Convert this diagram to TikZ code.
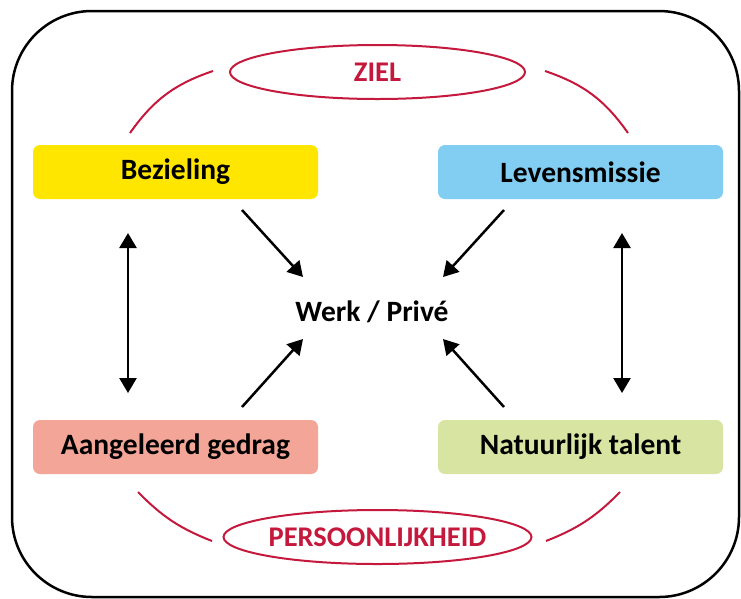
\documentclass[tikz,border=0pt]{standalone}
\usepackage{fontspec}
\setmainfont{Carlito}
\usetikzlibrary{arrows.meta,shapes.geometric}

\definecolor{zielrood}{RGB}{196,24,60}
\definecolor{geel}{RGB}{255,230,0}
\definecolor{blauw}{RGB}{130,205,242}
\definecolor{zalm}{RGB}{243,165,152}
\definecolor{groen}{RGB}{216,228,162}

\tikzset{
  vak/.style={rounded corners=7pt, minimum width=285pt, minimum height=54pt,
    inner sep=0pt, font=\fontsize{29.5}{31}\selectfont\bfseries},
  kern/.style={ellipse, draw=zielrood, line width=2pt, minimum width=295pt,
    minimum height=54pt, inner sep=0pt, text=zielrood,
    font=\fontsize{28.5}{30}\selectfont\bfseries},
  boog/.style={draw=zielrood, line width=2pt},
  pijl/.style={line width=2.5pt, -{Triangle[width=17pt,length=15pt]}},
  dubbel/.style={line width=2.5pt, {Triangle[width=17pt,length=15pt]}-{Triangle[width=17pt,length=15pt]}}
}

\begin{document}
\begin{tikzpicture}[x=1pt, y=-1pt]
    \useasboundingbox (0,0) rectangle (741,598);
    \draw[line width=2.5pt, rounded corners=80pt] (12,11) rectangle (739,597);

    % de vier vakken
    \node[vak, fill=geel]  (bezieling) at (175.5,172) {Bezieling};
    \node[vak, fill=blauw] (missie)    at (580.5,172) {Levensmissie};
    \node[vak, fill=zalm]  (gedrag)    at (175.5,447) {Aangeleerd gedrag};
    \node[vak, fill=groen] (talent)    at (580.5,447) {Natuurlijk talent};

    \node[font=\fontsize{29.5}{31}\selectfont\bfseries] (werk) at (372,312) {Werk / Privé};

    \node[kern] (ziel)   at (377.5,72)  {ZIEL};
    \node[kern] (persoon) at (377.5,537) {PERSOONLIJKHEID};

    % bogen
    \coordinate (b1) at (130,133);
    \coordinate (b2) at (213,71);
    \coordinate (b3) at (545,71);
    \coordinate (b4) at (628,133);
    \coordinate (b5) at (138,492);
    \coordinate (b6) at (212,541);
    \coordinate (b7) at (546,541);
    \coordinate (b8) at (620,492);
    \draw[boog] (b1) to[bend left=18] (b2);
    \draw[boog] (b3) to[bend left=18] (b4);
    \draw[boog] (b5) to[bend right=12] (b6);
    \draw[boog] (b7) to[bend right=12] (b8);

    % pijlen naar het midden
    \coordinate (p1) at (242,210);
    \coordinate (q1) at (303,277);
    \coordinate (p2) at (504,210);
    \coordinate (q2) at (443,277);
    \coordinate (p3) at (242,407);
    \coordinate (q3) at (303,339);
    \coordinate (p4) at (504,407);
    \coordinate (q4) at (443,339);
    \draw[pijl] (p1) -- (q1);
    \draw[pijl] (p2) -- (q2);
    \draw[pijl] (p3) -- (q3);
    \draw[pijl] (p4) -- (q4);

    % verticale pijlen
    \coordinate (l1) at (128,233);
    \coordinate (l2) at (128,393);
    \coordinate (r1) at (622,233);
    \coordinate (r2) at (622,393);
    \draw[dubbel] (l1) -- (l2);
    \draw[dubbel] (r1) -- (r2);
\end{tikzpicture}
\end{document}
